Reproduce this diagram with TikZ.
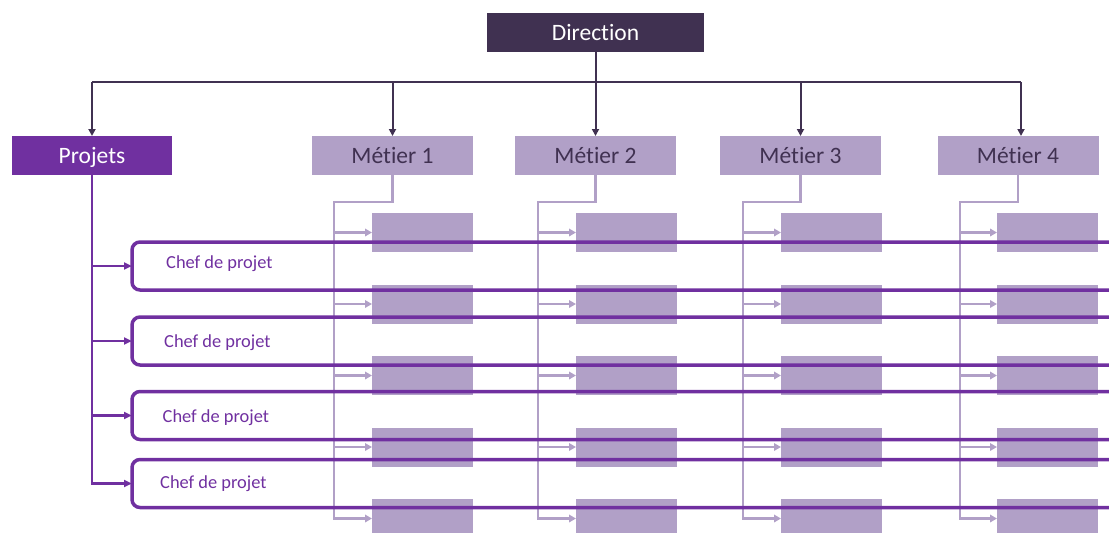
\documentclass[tikz,border=0pt]{standalone}
\usepackage{fontspec}
\setmainfont{Carlito}[Ligatures=NoCommon]
\usetikzlibrary{arrows.meta}
\definecolor{dirc}{RGB}{64,49,81}
\definecolor{projc}{RGB}{112,48,160}
\definecolor{lavc}{RGB}{177,160,199}
\begin{document}
\begin{tikzpicture}[x=1pt,y=-1pt,
  big/.style={font=\fontsize{23.5}{28}\selectfont, text height=15pt, text depth=0pt, inner sep=0pt, outer sep=0pt, minimum height=39pt},
  dirbox/.style={big, fill=dirc, text=white, minimum width=217pt},
  projbox/.style={big, fill=projc, text=white, minimum width=160pt},
  metbox/.style={big, fill=lavc, text=dirc, minimum width=161pt},
  subbox/.style={fill=lavc, minimum width=101pt, minimum height=39pt, inner sep=0pt, outer sep=0pt, anchor=west},
  chefbox/.style={draw=projc, line width=3.5pt, rounded corners=8pt, minimum width=1010pt, minimum height=48pt, inner sep=0pt, outer sep=0pt, anchor=west},
  cheftext/.style={font=\fontsize{18.4}{22}\selectfont, text=projc, anchor=base west, inner sep=0pt},
  dconn/.style={draw=dirc, line width=2pt},
  darrow/.style={dconn, -{Triangle[length=7pt,width=7pt]}},
  lconn/.style={draw=lavc, line width=2.2pt},
  larrow/.style={lconn, -{Triangle[length=7pt,width=7.5pt]}},
  pconn/.style={draw=projc, line width=2.5pt},
  parrow/.style={pconn, -{Triangle[length=8pt,width=7pt]}},
]
\useasboundingbox (0,0) rectangle (1109,533);
\clip (0,0) rectangle (1109,533);

% top boxes
\node[dirbox] (dir) at (595.5,32.5) {Direction};
\node[projbox] (proj) at (92,155.5) {Projets};
\node[metbox] (m1) at (392.5,155.5) {Métier 1};
\node[metbox] (m2) at (595.5,155.5) {Métier 2};
\node[metbox] (m3) at (800.5,155.5) {Métier 3};
\node[metbox] (m4) at (1018,155.5) {Métier 4};

% sub boxes
\foreach \i/\x in {1/372,2/576,3/781,4/997}{
  \foreach \j/\y in {1/232.5,2/304,3/375.5,4/447,5/518.5}{
    \node[subbox] (b\i\j) at (\x,\y) {};
  }
}

% metier spines
\coordinate (v1) at (334,202);
\coordinate (v2) at (538,202);
\coordinate (v3) at (743,202);
\coordinate (v4) at (960,202);
\foreach \i in {1,...,4}{
  \draw[larrow] (m\i.south) |- (v\i) |- (b\i5.west);
  \foreach \j in {1,...,4}{
    \draw[larrow] (v\i |- b\i\j.west) -- (b\i\j.west);
  }
}

% direction connectors
\coordinate (hb) at (595.5,82);
\coordinate (m4top) at ([xshift=3pt]m4.north);
\draw[dconn] (proj.north |- hb) -- (m4top |- hb);
\draw[darrow] (dir.south) -- (m2.north);
\draw[darrow] (proj.north |- hb) -- (proj.north);
\draw[darrow] (m1.north |- hb) -- (m1.north);
\draw[darrow] (m3.north |- hb) -- (m3.north);
\draw[darrow] (m4top |- hb) -- (m4top);

% chef de projet bands
\node[chefbox] (c1) at (132,266) {};
\node[chefbox] (c2) at (132,341) {};
\node[chefbox] (c3) at (132,415.5) {};
\node[chefbox] (c4) at (132,483.5) {};
\node[cheftext] (t1) at (166,268.7) {Chef de projet};
\node[cheftext] (t2) at (164,347.3) {Chef de projet};
\node[cheftext] (t3) at (162.5,422.3) {Chef de projet};
\node[cheftext] (t4) at (160,488.3) {Chef de projet};

% projets connectors
\draw[parrow] (proj.south) |- (c4.west);
\foreach \k in {1,2,3}{
  \draw[parrow] (proj.south |- c\k.west) -- (c\k.west);
}
\end{tikzpicture}
\end{document}
